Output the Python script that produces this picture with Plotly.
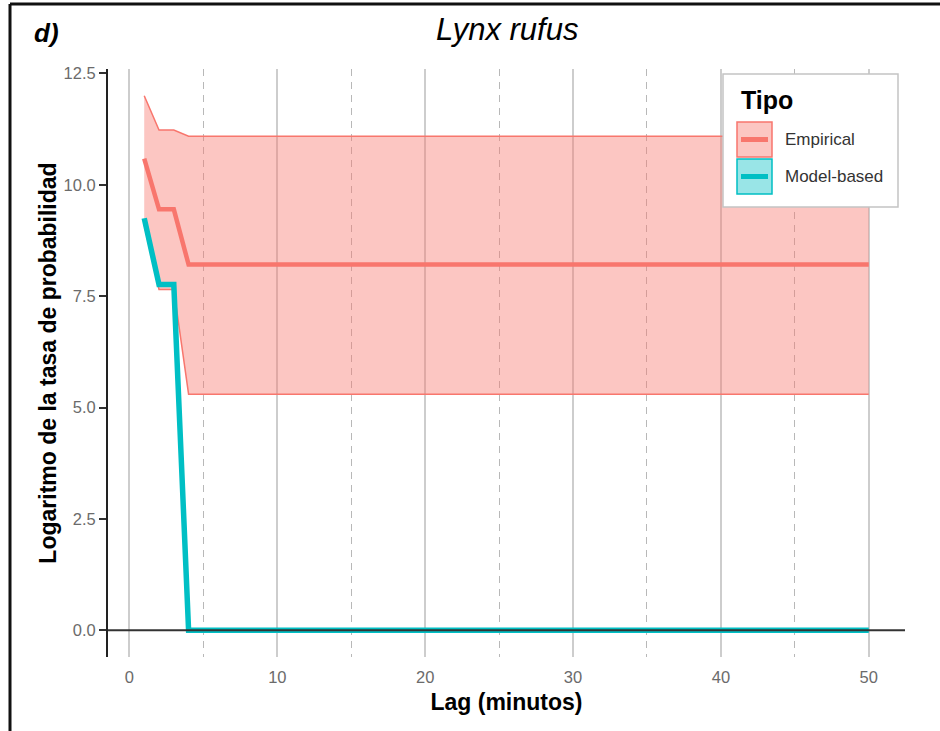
import plotly.graph_objects as go

# Lag (minutes) at which the estimates change; values stay flat up to lag 50
lag = [1, 2, 3, 4, 50]
empirical = [10.59, 9.45, 9.45, 8.21, 8.21]
empirical_hi = [12.0, 11.23, 11.23, 11.09, 11.09]
empirical_lo = [9.1, 7.65, 7.65, 5.3, 5.3]
model_based = [9.25, 7.76, 7.76, 0.0, 0.0]

series_names = ["Empirical", "Model-based"]
x_ticks = [0, 10, 20, 30, 40, 50]
y_ticks = [0.0, 2.5, 5.0, 7.5, 10.0, 12.5]

RED = "#F8766D"
CYAN = "#00BFC4"
RED_FILL = "rgba(248,118,109,0.42)"
CYAN_FILL = "rgba(0,191,196,0.4)"
FONT = "Liberation Sans, Arial, sans-serif"

W, H = 940, 731
L, R, T, B = 108, 905, 69, 657


def px_x(p):
    return (p - L) / (R - L)


def px_y(p):
    return (B - p) / (B - T)


fig = go.Figure()

# confidence ribbon of the empirical estimate
fig.add_trace(go.Scatter(x=lag, y=empirical_lo, mode="lines",
                         line=dict(color=RED, width=1.5),
                         showlegend=False, hoverinfo="skip"))
fig.add_trace(go.Scatter(x=lag, y=empirical_hi, mode="lines",
                         line=dict(color=RED, width=1.5),
                         fill="tonexty", fillcolor=RED_FILL,
                         showlegend=False, hoverinfo="skip"))

fig.add_trace(go.Scatter(x=lag, y=empirical, mode="lines", name=series_names[0],
                         line=dict(color=RED, width=4.5), showlegend=False))
fig.add_trace(go.Scatter(x=lag, y=model_based, mode="lines", name=series_names[1],
                         line=dict(color=CYAN, width=5.5), showlegend=False))

shapes = [
    # horizontal reference line at zero
    dict(type="line", xref="paper", yref="y", x0=0, x1=1, y0=0, y1=0,
         line=dict(color="#333333", width=2), layer="above"),
    # legend box
    dict(type="rect", xref="paper", yref="paper",
         x0=px_x(723), x1=px_x(898), y0=px_y(207), y1=px_y(74),
         fillcolor="white", line=dict(color="#c4c4c4", width=1.5), layer="above"),
    # outer frame (top and left edges)
    dict(type="line", xref="paper", yref="paper",
         x0=px_x(10), x1=px_x(945), y0=px_y(4), y1=px_y(4),
         line=dict(color="#111111", width=3), layer="above"),
    dict(type="line", xref="paper", yref="paper",
         x0=px_x(10), x1=px_x(10), y0=px_y(4), y1=px_y(740),
         line=dict(color="#111111", width=3), layer="above"),
]

annotations = [
    dict(text="<i>Lynx rufus</i>", xref="paper", yref="paper",
         x=px_x(507), y=px_y(30), xanchor="center", yanchor="middle",
         showarrow=False, font=dict(family=FONT, size=31, color="black")),
    dict(text="<b><i>d)</i></b>", xref="paper", yref="paper",
         x=px_x(47), y=px_y(33), xanchor="center", yanchor="middle",
         showarrow=False, font=dict(family=FONT, size=26, color="black")),
    dict(text="<b>Tipo</b>", xref="paper", yref="paper",
         x=px_x(739), y=px_y(100), xanchor="left", yanchor="middle",
         showarrow=False, font=dict(family=FONT, size=25, color="black")),
]

key_rows = [(122, 157, RED_FILL, RED), (159, 194, CYAN_FILL, CYAN)]
for name, (top, bot, fill, col) in zip(series_names, key_rows):
    mid = (top + bot) / 2
    shapes.append(dict(type="rect", xref="paper", yref="paper",
                       x0=px_x(737), x1=px_x(772), y0=px_y(bot), y1=px_y(top),
                       fillcolor=fill, line=dict(color=col, width=1.5), layer="above"))
    shapes.append(dict(type="line", xref="paper", yref="paper",
                       x0=px_x(741), x1=px_x(768), y0=px_y(mid), y1=px_y(mid),
                       line=dict(color=col, width=5), layer="above"))
    annotations.append(dict(text=name, xref="paper", yref="paper",
                            x=px_x(783), y=px_y(mid), xanchor="left", yanchor="middle",
                            showarrow=False,
                            font=dict(family=FONT, size=17, color="#333333")))

fig.update_layout(
    width=W, height=H,
    margin=dict(l=L, r=W - R, t=T, b=H - B),
    paper_bgcolor="white", plot_bgcolor="white",
    font=dict(family=FONT),
    shapes=shapes, annotations=annotations,
    showlegend=False,
)

fig.update_xaxes(
    range=[-1.45, 52.45], tickvals=x_ticks, ticktext=[str(v) for v in x_ticks],
    showgrid=True, gridcolor="#cdcdcd", gridwidth=1.5,
    minor=dict(tickvals=[5, 15, 25, 35, 45], showgrid=True, gridcolor="#b8b8b8",
               gridwidth=1.4, griddash="7px,6px", ticks=""),
    zeroline=False, showline=False, ticks="",
    ticklabelstandoff=8,
    tickfont=dict(family=FONT, size=16.5, color="#6b6b6b"),
    title=dict(text="<b>Lag (minutos)</b>", standoff=9,
               font=dict(family=FONT, size=23, color="black")),
)

fig.update_yaxes(
    range=[-0.6, 12.6], tickvals=y_ticks, ticktext=[f"{v:.1f}" for v in y_ticks],
    showgrid=False, zeroline=False,
    showline=True, linecolor="#222222", linewidth=2,
    ticks="outside", ticklen=7, tickwidth=1.5, tickcolor="#333333",
    tickfont=dict(family=FONT, size=16.5, color="#6b6b6b"),
    title=dict(text="<b>Logaritmo de la tasa de probabilidad</b>", standoff=1,
               font=dict(family=FONT, size=23, color="black")),
)

fig.write_html("out.html")
